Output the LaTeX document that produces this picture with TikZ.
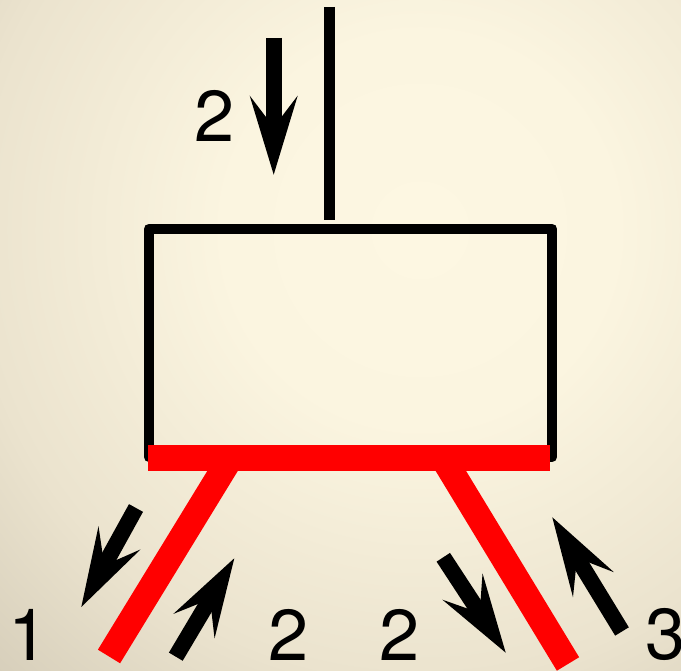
\documentclass[tikz,border=0pt]{standalone}
\usepackage{fontspec}
\setmainfont{TeX Gyre Heros}
\usetikzlibrary{arrows.meta, positioning}
\definecolor{creamA}{HTML}{FDF7E2}
\definecolor{creamB}{HTML}{FBF5E0}
\definecolor{creamC}{HTML}{EBE3CE}
\definecolor{creamD}{HTML}{D3CBB7}
\pgfdeclareradialshading{creamglow}{\pgfpoint{0bp}{0bp}}{%
  color(0bp)=(creamA); color(7bp)=(creamB); color(16bp)=(creamC);
  color(23bp)=(creamD); color(50bp)=(creamD)}
\tikzset{
  wire/.style={draw=black, line width=1.08mm},
  heat/.style={draw=red, line width=2.6mm},
  flow/.style={draw=black, line width=1.6mm,
               -{Stealth[length=7.9mm, width=4.8mm, inset=3.15mm, line width=0pt]}},
  num/.style={font=\fontsize{20.5}{20.5}\selectfont, inner sep=0pt},
}
\begin{document}
\begin{tikzpicture}[x=0.01cm, y=-0.01cm]
    %% page and background
    \useasboundingbox (0,0) rectangle (681,671);
    \begin{scope}
      \clip (0,0) rectangle (681,671);
      \shade[shading=creamglow] (420,230) circle (700);
    \end{scope}

    %% box corners and ends of the legs
    \coordinate (boxNW) at (149,229);
    \coordinate (boxSE) at (552,457);
    \coordinate (stemT) at (329.2,7);
    \coordinate (stemB) at (329.2,220.5);
    \coordinate (barL) at (148,458);
    \coordinate (barR) at (549.5,458);
    \coordinate (legLT) at (230.5,458);
    \coordinate (legLB) at (109,656.5);
    \coordinate (legRT) at (443,458);
    \coordinate (legRB) at (568,664);

    %% box and stem
    \draw[wire, line join=round] (boxNW) rectangle (boxSE);
    \draw[wire] (stemT) -- (stemB);

    %% red bar and legs
    \draw[heat] (legLT) -- (legLB);
    \draw[heat] (legRT) -- (legRB);
    \draw[heat] (barL) -- (barR);

    %% arrows
    \coordinate (a0s) at (273.7,38);
    \coordinate (a0e) at (273.7,174.7);
    \coordinate (a1s) at (136,508);
    \coordinate (a1e) at (81.3,607);
    \coordinate (a2s) at (175.8,656.7);
    \coordinate (a2e) at (234.3,558.3);
    \coordinate (a3s) at (443.3,557.3);
    \coordinate (a3e) at (505.7,652.7);
    \coordinate (a4s) at (622,631.5);
    \coordinate (a4e) at (552.3,517.3);
    \draw[flow] (a0s) -- (a0e);
    \draw[flow] (a1s) -- (a1e);
    \draw[flow] (a2s) -- (a2e);
    \draw[flow] (a3s) -- (a3e);
    \draw[flow] (a4s) -- (a4e);

    %% numbers
    \node[num] (n0) at (214.5,115.5) {2};
    \node[num] (n1) at (29,635) {1};
    \node[num] (n2) at (289,635) {2};
    \node[num] (n3) at (400,635) {2};
    \node[num] (n4) at (666,635) {3};
\end{tikzpicture}
\end{document}
